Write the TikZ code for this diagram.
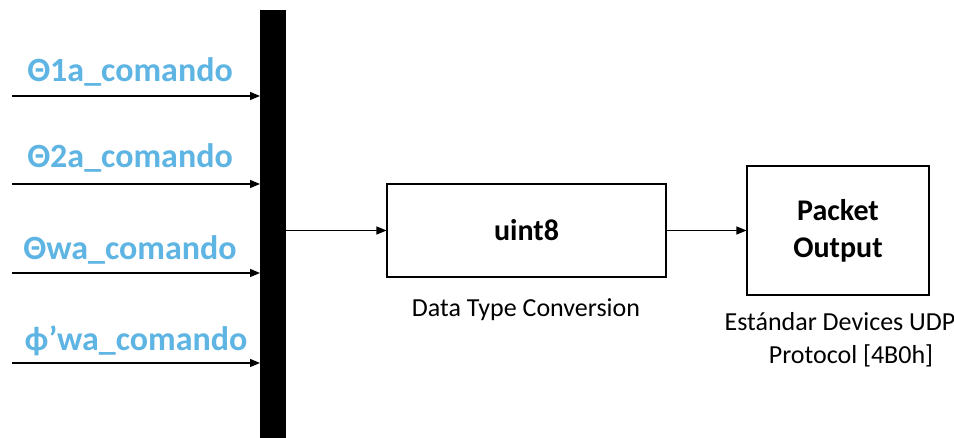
\documentclass[tikz,border=0pt]{standalone}
\usepackage{fontspec}
\setmainfont{Carlito}
\usetikzlibrary{arrows.meta}
\definecolor{lblue}{RGB}{94,180,226}
\begin{document}
\begin{tikzpicture}[x=1pt,y=-1pt,
  conn/.style={line width=1.2pt,-{Triangle[length=10pt,width=8pt]}},
  blk/.style={draw,line width=1.1pt,minimum width=#1,inner sep=0pt},
  sig/.style={text=lblue,font=\fontsize{34}{40}\selectfont\bfseries},
  captxt/.style={font=\fontsize{26}{35}\selectfont,align=center},
  boldtxt/.style={font=\fontsize{30}{37}\selectfont\bfseries,align=center}]
\useasboundingbox (0,0) rectangle (954,438);
% mux bar
\node[fill=black,minimum width=26pt,minimum height=428pt,inner sep=0pt,anchor=north west] (bar) at (260,10) {};
% inputs
\coordinate (i1) at (12,96);
\coordinate (i2) at (12,184);
\coordinate (i3) at (12,273);
\coordinate (i4) at (12,363);
\draw[conn] (i1) -- (i1 -| bar.west);
\draw[conn] (i2) -- (i2 -| bar.west);
\draw[conn] (i3) -- (i3 -| bar.west);
\draw[conn] (i4) -- (i4 -| bar.west);
\node[sig] (l1) at (130,72) {Θ1a\_comando};
\node[sig] (l2) at (130,158) {Θ2a\_comando};
\node[sig] (l3) at (130,250) {Θwa\_comando};
\node[sig] (l4) at (136,341) {ϕ’wa\_comando};
% uint8 block
\node[blk=279pt,minimum height=93pt,boldtxt] (conv) at (526.5,230.5) {uint8};
\node[captxt] (convcap) at (526,310) {Data Type Conversion};
% packet output
\node[blk=182pt,minimum height=129pt,boldtxt] (pkt) at (838,230.5) {Packet\\Output};
\node[captxt] (pktcap1) at (840,322) {Estándar Devices UDP};
\node[captxt] (pktcap2) at (851,356) {Protocol [4B0h]};
% connectors
\coordinate (b1) at (286,230.5);
\draw[conn] (b1) -- (conv.west);
\draw[conn] (conv.east) -- (pkt.west);
\end{tikzpicture}
\end{document}
